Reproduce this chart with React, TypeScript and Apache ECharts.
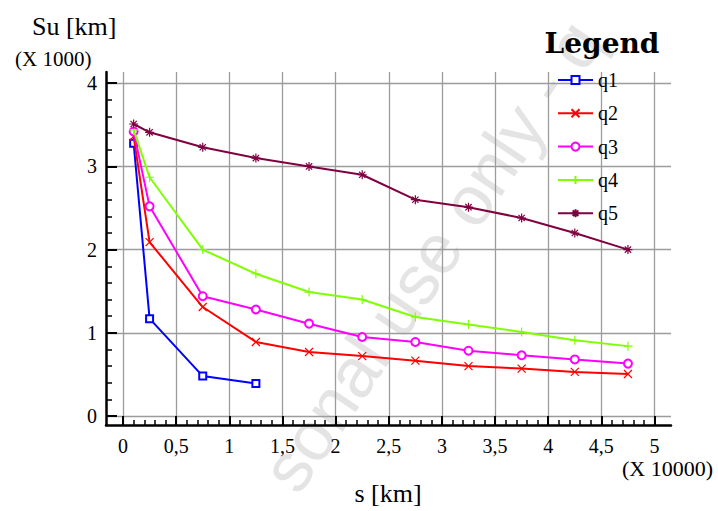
import React, { useEffect, useRef } from 'react';
import * as echarts from 'echarts';

// distances in units of 10000 km, Su in units of 1000 km
const xValues = [0.1, 0.25, 0.75, 1.25, 1.75, 2.25, 2.75, 3.25, 3.75, 4.25, 4.75];
const q1 = [3.28, 1.17, 0.48, 0.39];
const q2 = [3.36, 2.09, 1.31, 0.89, 0.77, 0.72, 0.665, 0.6, 0.57, 0.53, 0.505];
const q3 = [3.42, 2.52, 1.44, 1.28, 1.11, 0.95, 0.89, 0.785, 0.73, 0.68, 0.63];
const q4 = [3.44, 2.87, 2.0, 1.71, 1.49, 1.4, 1.19, 1.1, 1.01, 0.91, 0.84];
const q5 = [3.51, 3.41, 3.23, 3.1, 3.0, 2.9, 2.6, 2.51, 2.38, 2.2, 2.0];
const seriesNames = ['q1', 'q2', 'q3', 'q4', 'q5'];
const seriesValues = [q1, q2, q3, q4, q5];
const seriesColors = ['#0000ff', '#ff0000', '#ff00ff', '#80ff00', '#800040'];
const seriesSymbols = [
  'emptyRect',
  'path://M0,0L10,10M10,0L0,10',
  'emptyCircle',
  'path://M5,0L5,10M0,5L10,5',
  'path://M5,0L5,10M0,5L10,5M1.5,1.5L8.5,8.5M8.5,1.5L1.5,8.5',
];
const seriesSymbolSizes = [7, 8, 8, 9, 9];

const X_MIN = -0.16;
const X_MAX = 5.155;
const Y_MIN = -0.108;
const Y_MAX = 4.135;
const X_TICK_MAX = 5;
const Y_TICK_MAX = 4;

const SERIF = 'Liberation Serif';

export default function App() {
  const ref = useRef<HTMLDivElement>(null);
  useEffect(() => {
    const chart = echarts.init(ref.current!, null, { renderer: 'svg' });
    const OUT = { left: 106, top: 72, width: 565, height: 353 };
    const innerLeft = OUT.left + ((0 - X_MIN) / (X_MAX - X_MIN)) * OUT.width;
    const innerRight = OUT.left + ((X_TICK_MAX - X_MIN) / (X_MAX - X_MIN)) * OUT.width;
    const innerTop = OUT.top + ((Y_MAX - Y_TICK_MAX) / (Y_MAX - Y_MIN)) * OUT.height;
    const innerBottom = OUT.top + ((Y_MAX - 0) / (Y_MAX - Y_MIN)) * OUT.height;
    const gridColor = '#9c9c9c';

    const option: any = {
      animation: false,
      backgroundColor: '#ffffff',
      grid: [
        { left: OUT.left, top: OUT.top, width: OUT.width, height: OUT.height },
        {
          left: innerLeft,
          top: innerTop,
          width: innerRight - innerLeft,
          height: innerBottom - innerTop,
        },
      ],
      xAxis: [
        {
          type: 'value',
          gridIndex: 0,
          min: X_MIN,
          max: X_MAX,
          splitNumber: 10,
          minInterval: 0.5,
          maxInterval: 0.5,
          axisLine: { show: true, onZero: false, lineStyle: { color: '#000', width: 2.5 } },
          axisTick: { show: false },
          axisLabel: { show: false },
          splitLine: {
            show: true,
            showMinLine: false,
            showMaxLine: false,
            lineStyle: { color: gridColor, width: 1.3 },
          },
        },
        {
          type: 'value',
          gridIndex: 1,
          min: 0,
          max: X_TICK_MAX,
          interval: 0.5,
          position: 'bottom',
          offset: OUT.top + OUT.height - innerBottom,
          axisLine: { show: false, onZero: false },
          axisTick: { show: true, inside: true, length: 9, lineStyle: { color: '#000', width: 2 } },
          minorTick: { show: true, splitNumber: 5, length: 5, lineStyle: { color: '#000', width: 1.5 } },
          splitLine: { show: false },
          axisLabel: {
            margin: 11,
            fontSize: 20,
            fontFamily: SERIF,
            color: '#000',
            formatter: (v: number) => String(v).replace('.', ','),
          },
        },
      ],
      yAxis: [
        {
          type: 'value',
          gridIndex: 0,
          min: Y_MIN,
          max: Y_MAX,
          splitNumber: 4,
          minInterval: 1,
          maxInterval: 1,
          axisLine: { show: true, onZero: false, lineStyle: { color: '#000', width: 2.5 } },
          axisTick: { show: false },
          axisLabel: { show: false },
          splitLine: {
            show: true,
            showMinLine: false,
            showMaxLine: false,
            lineStyle: { color: gridColor, width: 1.3 },
          },
        },
        {
          type: 'value',
          gridIndex: 1,
          min: 0,
          max: Y_TICK_MAX,
          interval: 1,
          position: 'left',
          offset: innerLeft - OUT.left,
          axisLine: { show: false, onZero: false },
          axisTick: { show: true, inside: true, length: 11, lineStyle: { color: '#000', width: 2 } },
          minorTick: { show: true, splitNumber: 5, length: 6, lineStyle: { color: '#000', width: 1.5 } },
          splitLine: { show: false },
          axisLabel: { margin: 9, fontSize: 20, fontFamily: SERIF, color: '#000' },
        },
      ],
      legend: {
        orient: 'vertical',
        left: 552,
        top: 65,
        itemWidth: 35,
        itemHeight: 10,
        itemGap: 13.3,
        data: seriesNames,
        textStyle: { fontSize: 20, lineHeight: 20, fontFamily: SERIF, color: '#000' },
      },
      graphic: [
        {
          type: 'text',
          z: -10,
          x: 432,
          y: 256,
          rotation: (56 * Math.PI) / 180,
          silent: true,
          style: {
            text: 'sonal use only - q',
            fontSize: 70,
            fontFamily: 'Liberation Sans',
            fill: '#e4e4e4',
            align: 'center',
            verticalAlign: 'middle',
          },
        },
        {
          type: 'text',
          x: 32,
          y: 26,
          style: { text: 'Su [km]', fontSize: 26, fontFamily: SERIF, fill: '#000', align: 'left', verticalAlign: 'middle' },
        },
        {
          type: 'text',
          x: 15,
          y: 59,
          style: { text: '(X 1000)', fontSize: 21, fontFamily: SERIF, fill: '#000', align: 'left', verticalAlign: 'middle' },
        },
        {
          type: 'text',
          x: 622,
          y: 468,
          style: { text: '(X 10000)', fontSize: 22, fontFamily: SERIF, fill: '#000', align: 'left', verticalAlign: 'middle' },
        },
        {
          type: 'text',
          x: 388,
          y: 493,
          style: { text: 's [km]', fontSize: 26, fontFamily: SERIF, fill: '#000', align: 'center', verticalAlign: 'middle' },
        },
        {
          type: 'text',
          x: 602,
          y: 43,
          style: {
            text: 'Legend',
            fontSize: 28,
            fontWeight: 'bold',
            fontFamily: 'DejaVu Serif',
            fill: '#000',
            align: 'center',
            verticalAlign: 'middle',
          },
        },
      ],
      series: seriesNames.map((name, i) => ({
        name,
        type: 'line',
        xAxisIndex: 0,
        yAxisIndex: 0,
        data: seriesValues[i].map((y, j) => [xValues[j], y]),
        symbol: seriesSymbols[i],
        symbolSize: seriesSymbolSizes[i],
        showAllSymbol: true,
        lineStyle: { color: seriesColors[i], width: 2 },
        itemStyle: { color: seriesColors[i], borderColor: seriesColors[i], borderWidth: 1.2 },
        emphasis: { disabled: true },
        z: 3 + i,
      })),
    };
    chart.setOption(option);
    return () => chart.dispose();
  }, []);
  return (
    <div
      ref={ref}
      style={{ position: 'fixed', left: 0, top: 0, width: 718, height: 511 }}
    />
  );
}
